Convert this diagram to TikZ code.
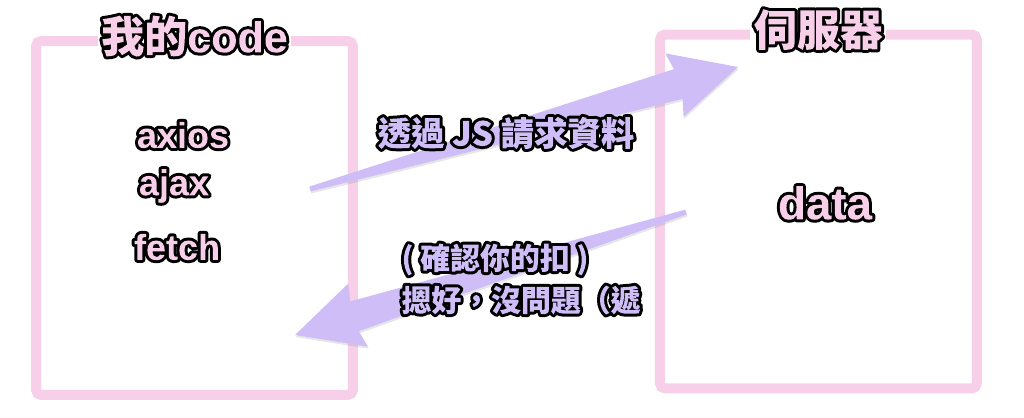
\documentclass[tikz,border=0pt]{standalone}
\usepackage{fontspec}
\setmainfont{Liberation Sans}
\newfontfamily\cjk{Noto Sans CJK TC}
\usetikzlibrary{positioning, calc, shadows}
\definecolor{boxpink}{RGB}{247, 207, 232}
\definecolor{lavender}{RGB}{207, 189, 247}

% black rim round the glyphs, fill colour kept inside
\newcommand{\outlined}[1]{%
    \special{pdf:bcontent}\special{pdf:literal direct 6 Tr 3.4 w 1 j 0 0 0 RG}#1%
    \special{pdf:literal direct 0 Tr -9999 -9999 19998 19998 re f}\special{pdf:econtent}}
\newcommand{\fatarrow}[2]{%
    \fill[arrowbody] let \p1=(#1), \p2=(#2),
        \n1={atan2(\y2-\y1,\x2-\x1)}, \n2={veclen(\x2-\x1,\y2-\y1)} in
        [shift={(\p1)}, rotate=\n1]
        (0pt,0.05cm) -- ({\n2-1.24cm},0.31cm) -- ({\n2-1.32cm},0.66cm) -- (\n2,0pt)
        -- ({\n2-1.32cm},-0.66cm) -- ({\n2-1.24cm},-0.31cm) -- (0pt,-0.05cm) -- cycle;}

\begin{document}
\begin{tikzpicture}[
        x=0.02cm, y=-0.02cm,
        panel/.style={rectangle, draw=boxpink, line width=0.2cm, rounded corners=3pt, minimum width=6.34cm, minimum height=7.08cm},
        heading/.style={fill=white, inner sep=2pt, text=boxpink, font=\fontsize{24.5}{29}\selectfont\bfseries},
        item/.style={text=boxpink, font=\fontsize{20.5}{24}\selectfont\bfseries},
        talk/.style={text=lavender, align=left, font=\cjk\fontsize{19}{24}\selectfont\bfseries},
        arrowbody/.style={fill=lavender, drop shadow={opacity=0.2, shadow xshift=0.4pt, shadow yshift=-1.2pt}}
    ]
    \useasboundingbox (0,0) rectangle (1024,418);

    % Boxes
    \node[panel] (client) at (194.5,218) {};
    \node[panel, right=5.94cm of client, yshift=0.13cm] (server) {};
    \node[heading] (clienttitle) at (client.north) {\outlined{{\cjk 我的}code}};
    \node[heading] (servertitle) at (server.north) {\outlined{\cjk 伺服器}};

    % Contents
    \node[item] (axios) at (183,135) {\outlined{axios}};
    \node[item] (ajax) at (174,186) {\outlined{ajax}};
    \node[item] (fetch) at (177,247) {\outlined{fetch}};
    \node[item, font=\fontsize{26}{30}\selectfont\bfseries] (data) at (825,203) {\outlined{data}};

    % Arrows
    \coordinate (reqtail) at (310,189);
    \coordinate (reqtip) at (738,67);
    \coordinate (restail) at (686,212);
    \coordinate (restip) at (295,335);
    \fatarrow{reqtail}{reqtip}
    \fatarrow{restail}{restip}

    % Labels
    \node[talk] (reqlabel) at (506,133) {\outlined{透過 JS 請求資料}};
    \node[talk, font=\cjk\fontsize{17}{24}\selectfont\bfseries] (reslabel) at (521,279) {\outlined{( 確認你的扣 )}\\\outlined{摁好，沒問題（遞}};
\end{tikzpicture}
\end{document}
